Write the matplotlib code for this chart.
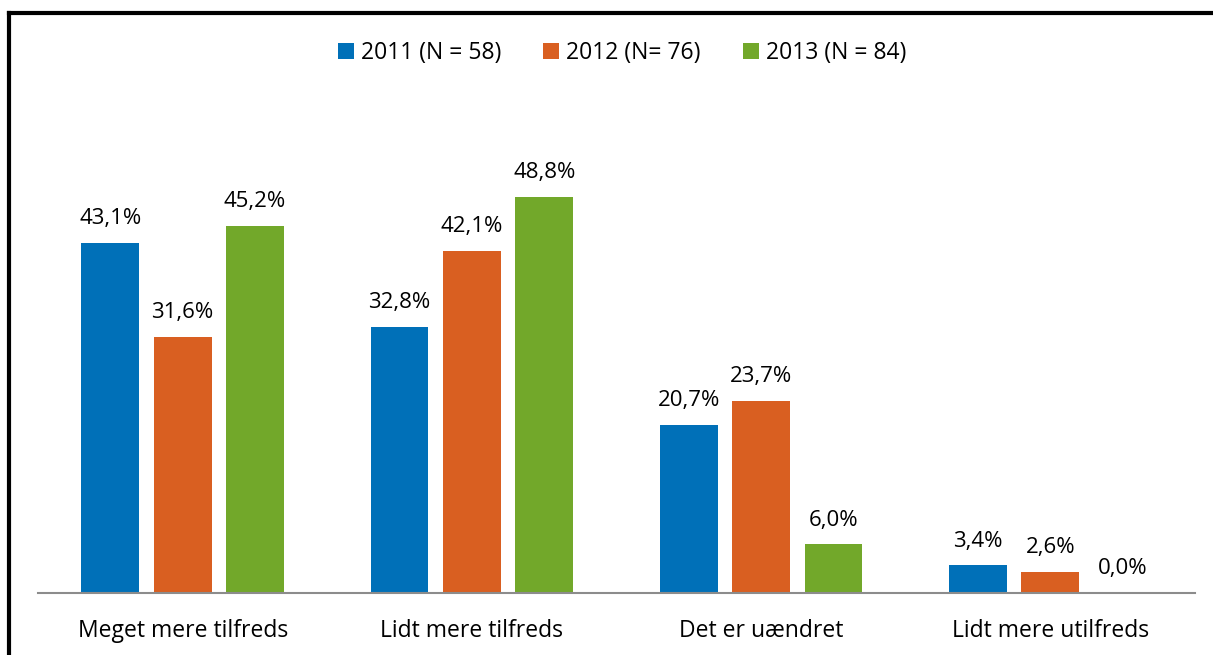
import numpy as np
import matplotlib.pyplot as plt
from matplotlib.lines import Line2D

# Data
categories = ["Meget mere tilfreds", "Lidt mere tilfreds", "Det er uændret", "Lidt mere utilfreds"]
series_names = ["2011 (N = 58)", "2012 (N= 76)", "2013 (N = 84)"]
values_2011 = [43.1, 32.8, 20.7, 3.4]
values_2012 = [31.6, 42.1, 23.7, 2.6]
values_2013 = [45.2, 48.8, 6.0, 0.0]

colors = ["#0070B8", "#D95F21", "#72A82A"]

plt.rcParams['font.family'] = ['Open Sans', 'DejaVu Sans']

W, H = 1213, 655
fig = plt.figure(figsize=(W / 100, H / 100), dpi=100)
ax = fig.add_axes([38 / W, (H - 593) / H, (1195 - 38) / W, (593 - 106) / H])

x = np.arange(len(categories))
width = 0.2
offsets = [-0.25, 0.0, 0.25]
all_vals = [values_2011, values_2012, values_2013]

for vals, off, col, name in zip(all_vals, offsets, colors, series_names):
    bars = ax.bar(x + off, vals, width, color=col, label=name)
    for b, v in zip(bars, vals):
        ax.text(b.get_x() + b.get_width() / 2, v + 1.7, f"{v:.1f}%".replace(".", ","),
                ha="center", va="bottom", fontsize=16)

ax.set_xlim(-0.5, len(categories) - 0.5)
ax.set_ylim(0, 60)
ax.set_yticks([])
ax.set_xticks(x)
ax.set_xticklabels(categories, fontsize=16.5)
ax.tick_params(axis="x", length=0, pad=19)
for s in ["top", "right", "left"]:
    ax.spines[s].set_visible(False)
ax.spines["bottom"].set_color("#8C8C8C")
ax.spines["bottom"].set_linewidth(1.5)

leg = fig.legend(loc="center", bbox_to_anchor=(622 / W, (H - 53) / H), ncol=3, frameon=False,
                 fontsize=16.5, handlelength=0.7, handleheight=0.7, handletextpad=0.3,
                 columnspacing=1.85)

# frame lines (top and left only visible)
fig.add_artist(Line2D([9 / W, 1], [(H - 13) / H] * 2, color="black", lw=3, transform=fig.transFigure))
fig.add_artist(Line2D([9 / W] * 2, [0, (H - 13) / H], color="black", lw=3, transform=fig.transFigure))

fig.savefig("out.png", dpi=100)
